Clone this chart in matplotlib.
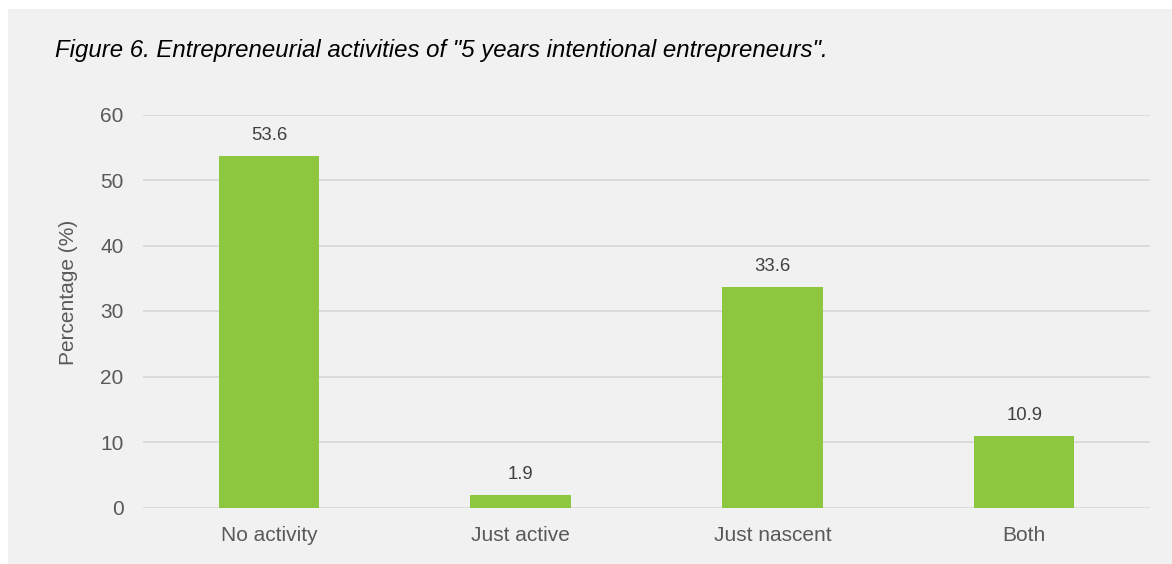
import matplotlib
matplotlib.use("Agg")
import matplotlib.pyplot as plt
from matplotlib.patches import Rectangle

categories = ["No activity", "Just active", "Just nascent", "Both"]
percentages = [53.6, 1.9, 33.6, 10.9]
y_ticks = [0, 10, 20, 30, 40, 50, 60]

title = 'Figure 6. Entrepreneurial activities of "5 years intentional entrepreneurs".'
y_label = "Percentage (%)"

W, H = 1172, 564
BG = "#f1f1f1"
BAR = "#8dc63f"
GRID = "#d9d9d9"
TICK = "#595959"
VAL = "#404040"

plt.rcParams["font.family"] = ["Liberation Sans", "DejaVu Sans"]

fig = plt.figure(figsize=(W / 100, H / 100), dpi=100, facecolor="white")
# grey panel behind the chart
fig.patches.append(Rectangle((8 / W, 0), 1 - 8 / W, 1 - 9 / H,
                             transform=fig.transFigure, facecolor=BG,
                             edgecolor="none", zorder=-10))

ax = fig.add_axes([143 / W, 56.5 / H, (1150 - 143) / W, 393 / H])
ax.set_facecolor(BG)
x = range(len(categories))
bars = ax.bar(x, percentages, width=0.4, color=BAR, zorder=3)

ax.set_xlim(-0.5, len(categories) - 0.5)
ax.set_ylim(0, 60)
ax.set_yticks(y_ticks)
ax.set_xticks(list(x))
ax.set_xticklabels(categories)
ax.yaxis.grid(True, color=GRID, linewidth=1.3, zorder=0)
ax.set_axisbelow(True)
for s in ax.spines.values():
    s.set_visible(False)
ax.tick_params(axis="both", length=0, labelsize=15, colors=TICK)
ax.tick_params(axis="y", pad=14)
ax.tick_params(axis="x", pad=13)
ax.set_ylabel(y_label, fontsize=15, color=TICK, labelpad=16)
ax.yaxis.label.set_y(0.548)

for b, v in zip(bars, percentages):
    ax.annotate(f"{v:.1f}", (b.get_x() + b.get_width() / 2, v),
                xytext=(0, 21), textcoords="offset pixels",
                ha="center", va="center", fontsize=13.3, color=VAL)

fig.text(55 / W, 1 - 51 / H, title, fontsize=17.3, style="italic",
         color="black", ha="left", va="center")

fig.savefig("out.png", dpi=100, facecolor=fig.get_facecolor())
